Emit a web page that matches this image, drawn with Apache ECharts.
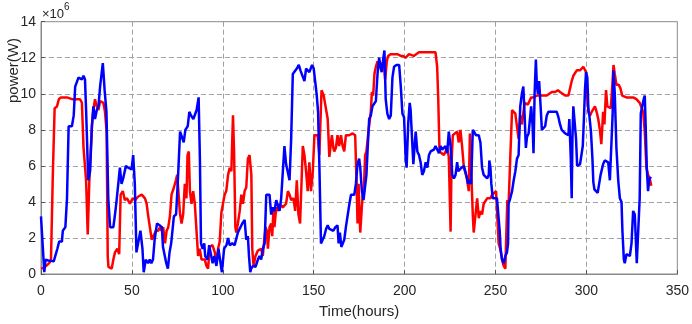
<!DOCTYPE html>
<html>
<head>
<meta charset="utf-8">
<script src="https://cdn.jsdelivr.net/npm/echarts@6/dist/echarts.min.js"></script>
<style>
  html, body { margin: 0; padding: 0; background: #fff; }
  #chart { width: 692px; height: 324px; }
</style>
</head>
<body>
<div id="chart"></div>
<script>
// power in units of 1e6 W, time in hours
const redHours = [0,1.8,2.7,4.5,5.5,6.5,7.5,8.8,9.8,11,14.3,17,19.7,21.5,22.5,23.4,24.2,24.8,25.7,26.6,28,28.8,29.7,30.7,31.6,32.5,34.3,35.2,36.1,36.7,37.1,38.9,39.8,40.7,42,43,43.8,45,46.1,47.3,48.9,50.4,51.7,53.5,55.4,57.2,58.1,59,59.9,60.9,61.8,63.2,64.5,65.4,66.3,67.2,68.2,69.1,70,70.9,71.8,73.1,74.2,74.9,75.5,76.4,77.3,78.2,79.1,80,80.6,81.3,81.9,82.8,83.7,84.6,85.5,86.4,87.3,88.3,90.1,91,91.9,92.8,94.3,95.6,96.5,97.4,98.3,99.2,100.1,101,101.9,102.9,103.8,104.7,105.6,106.2,106.9,107.4,108.3,109.3,110.2,111.1,112,112.9,113.8,114.7,115.7,116.2,116.9,118,119.3,121.1,122,123,123.5,124.2,124.8,125.7,126.6,127.2,127.9,128.4,129.4,130.3,131.2,133,133.9,134.8,135.8,136.7,137.6,138.9,139.8,140.7,141.6,142.5,143.4,144,144.9,145.8,146.7,147.6,148.5,149.5,150.4,151.3,152.2,153.1,154.3,155.5,156.4,157.7,158.6,159.5,160,160.8,161.3,162.2,163.1,164,165,165.9,166.8,167.7,169.5,171.4,172.8,173.6,174.1,174.7,175,175.6,176.5,176.9,177.4,178.3,179,180.1,181.4,182,182.7,183.4,184.2,185.1,186,186.9,187.8,188.7,189.3,190.2,190.9,192.4,196,197.9,199.1,200.6,201.5,202.4,203.3,205,206.1,207.9,217,217.4,217.9,218.5,219.2,219.8,221.6,222.5,223.4,224.3,225.3,225.8,226.5,227.6,228.9,229.8,230.7,231.6,232.6,233.5,234.4,235.3,235.9,236.8,237.5,238,239,239.9,240.8,241.7,242.6,243.5,244.4,245.4,246.3,247.2,248.1,249,250.3,251.2,251.7,252.6,253.6,254.5,255.4,256,256.5,257.2,258.1,259.1,260,260.9,261.8,262.7,263.6,264.5,265.4,266,266.7,267.8,268.7,269.6,270.9,272.7,276.4,278.2,279.1,281,282.8,284.3,285.5,286.4,288.3,290.1,291,291.9,292.8,293.8,294.7,295.6,296.5,297.4,298.3,299.2,299.8,300.3,301.1,302,302.9,303.8,304.7,305.6,306.5,307.4,308.2,309.2,309.9,310.8,311.5,312.5,313.4,314.2,314.9,315.6,316.5,317.8,318.7,319.7,320.7,322,325.7,327.5,328.4,329.3,330.2,331.2,332.1,333,333.9,334.8,335.7];
const redPower = [0.3,0.35,0.45,0.6,0.8,5.5,9.2,9.3,9.7,9.8,9.8,9.7,9.7,9.7,9.5,7.0,7.0,5.2,2.2,5.2,8.2,9.1,9.7,9.3,9.1,9.6,9.5,9.0,7.9,1.0,0.4,0.3,0.8,1.2,1.4,1.1,4.4,4.6,4.1,4.2,3.9,4.2,4.1,4.3,4.4,4.2,3.9,3.2,3.3,1.9,1.9,2.4,2.4,2.6,2.4,2.6,1.7,2.4,2.6,3.2,4.4,4.8,5.2,5.5,4.7,3.4,2.8,3.3,5.0,4.2,6.6,6.8,4.6,3.9,4.6,3.9,3.8,1.0,1.4,0.8,0.8,0.45,0.3,1.5,1.6,1.2,0.6,1.4,1.8,3.4,3.9,4.4,4.6,5.5,5.9,5.7,8.8,6.8,2.6,2.3,2.8,3.5,4.4,3.9,4.6,4.8,6.4,6.6,5.5,1.4,0.45,1.0,1.3,1.4,1.0,2.1,2.6,2.4,1.4,2.6,2.8,2.1,3.7,2.6,3.7,3.5,3.9,3.7,3.8,3.9,4.6,4.4,4.1,4.2,3.5,5.2,3.3,2.8,2.8,7.1,6.6,5.7,4.6,6.2,4.6,5.7,7.7,7.8,7.7,6.6,10.2,9.9,9.8,8.6,6.5,6.6,7.7,7.0,6.8,7.0,7.7,7.1,7.7,7.1,6.8,7.7,7.7,7.8,7.7,5.0,2.8,5.0,3.9,2.3,2.4,4.4,4.2,6.6,6.8,7.9,9.0,10.1,9.9,11.1,11.5,11.8,11.5,11.7,11.8,11.5,10.8,11.8,12.1,12.2,12.2,12.1,12.1,12.0,12.1,12.2,12.1,12.1,12.2,12.3,12.3,12.2,11.5,9.7,6.8,6.7,6.6,6.8,7.0,6.5,2.35,6.1,7.7,7.7,7.9,7.3,8.0,7.1,5.9,5.6,5.2,4.6,7.8,7.7,3.3,2.3,2.3,4.2,3.1,3.5,3.3,3.9,3.8,4.2,4.1,4.2,4.4,4.5,4.6,4.6,1.7,1.4,0.8,0.45,0.3,2.4,4.1,3.9,6.4,9.1,9.2,8.9,9.0,7.5,8.8,8.3,8.2,9.5,9.5,9.4,9.5,9.8,9.8,9.9,9.9,9.9,10.0,10.1,10.1,10.2,10.1,10.0,9.9,9.9,10.0,10.7,11.0,11.1,11.3,11.4,11.3,11.4,11.5,11.6,11.2,9.9,9.0,8.8,9.0,9.1,9.3,9.0,8.6,8.0,7.2,9.0,8.3,10.2,9.3,9.3,9.2,10.4,11.6,11.1,10.5,10.5,10.3,9.9,9.9,9.8,9.8,9.7,9.6,9.5,9.6,9.0,7.9,5.9,5.5,5.3,4.9];

const blueHours = [0,1.8,2.5,4,7,9,10,11.5,12,13.4,14.3,15.2,17,18,18.8,20.6,22.5,23.4,24.2,24.8,26,27,28,28.8,29.7,30.7,31.6,32.5,34,35,36,37,38,39.8,40.7,41.6,42.5,43.4,44.3,45.2,46.7,48,49.8,50.7,51.6,52.5,53.4,54.7,55.8,56.5,57.6,58.9,59.8,60.7,61.6,62.5,63.8,65.2,66.5,67.1,68,68.9,69.8,70.7,71.6,73.1,74.3,75.2,76.5,77.6,78.5,79.4,80.7,81.6,82.5,83.8,84.9,85.6,86.7,87.4,88,88.9,89.8,90.3,91.6,92.5,93.4,94.4,95.3,96.5,97.6,99.5,100.7,102,102.9,103.8,105.2,106.5,107.4,108.3,109.3,110.7,112,112.9,113.8,114.4,115.1,115.6,116.6,118,119.3,120.2,121.1,122,123,123.9,124.8,125.7,126.6,127.5,128.4,129.4,130.3,131.2,132.1,133,133.9,134.8,135.8,136.7,137.6,138.5,139.4,140.7,141.8,142.7,143.6,144.9,145.8,146.7,147.6,149.1,150,150.9,151.6,152.4,153.1,154,154.9,155.8,156.8,157.7,158.6,159.5,160.8,161.9,163.1,163.7,164.4,165.2,165.9,166.8,167.7,168.6,169.5,170.5,172.3,173.2,174.1,175,175.6,176.5,177.4,178.3,179,179.6,180.5,181.4,182.3,183.2,184.2,185.1,186,186.7,187.4,188.2,188.9,189.6,190.5,191.5,192.4,193.3,194.2,195.5,197,197.9,198.8,199.7,200.6,201.1,202,202.8,203.3,204.3,204.8,205.5,206.1,207,207.9,208.8,209.7,210.6,211.6,212.5,213.4,214.3,216.1,217,217.9,218.9,219.8,220.7,221.6,222.5,223.4,224.3,225.3,226.2,227.1,228,228.9,229.5,230.2,231.3,232.6,233.5,234.4,234.9,235.7,236.6,237.5,238.4,239.3,240.8,241.7,242.6,243.5,244.4,245.4,246.3,246.6,247.2,247.7,248.5,249.6,250.8,251.7,252.3,252.8,253.6,254.5,255.4,256.3,256.9,257.2,258.1,259.1,260,260.9,261.8,262.7,263.6,264.5,265.3,266,266.7,267.3,268.2,269.1,269.6,270.4,270.9,271.5,272.2,272.7,273.3,274,274.8,275.5,276.4,277.3,278.2,279.1,280,281.9,283.7,284.6,285.5,286.4,287.4,288.3,290.1,290.6,291.4,291.9,292.3,292.8,293.8,294.3,294.9,295.6,296.5,297.4,298,298.7,299.2,299.8,300.5,301.1,301.6,302.5,303.3,303.8,304.4,305.3,306.2,307.1,307.8,308.4,309.2,310.1,311.1,312,312.9,313.8,314.4,314.9,315.6,316.5,317.5,318.4,319.3,319.8,320.6,321.1,322,322.9,323.9,324.8,325.7,326.6,327.1,327.7,328.8,329.3,329.9,330.8,331.5,332.1,332.6,333.2,333.9,334.5,335.4];
const bluePower = [3.2,0.1,0.8,0.75,0.7,1.4,1.8,1.8,2.4,2.6,4.2,8.2,8.2,8.8,10.4,10.9,10.8,11.0,10.8,9.1,5.2,5.7,8.2,9.3,8.6,9.1,9.3,10.4,11.7,10.2,9.0,4.2,2.6,2.6,3.3,4.1,4.1,5.9,5.0,5.3,6.0,5.9,5.8,6.6,5.0,1.2,1.7,2.4,1.4,0.1,0.8,0.6,0.8,0.6,0.8,1.9,2.8,2.7,2.6,1.5,1.4,0.6,0.3,1.2,1.7,3.2,3.3,5.0,7.9,8.0,7.3,8.0,8.2,9.0,8.8,8.6,8.6,9.1,9.8,6.4,1.7,1.4,1.7,1.0,0.8,1.6,1.5,0.6,1.0,0.45,1.4,0.1,1.4,1.6,2.0,1.6,1.7,1.6,1.5,2.3,2.4,2.8,3.0,1.9,2.1,1.0,0.1,0.3,0.45,0.4,0.8,1.0,0.8,1.4,1.7,4.4,4.5,4.4,3.3,3.7,3.5,4.1,4.2,3.5,4.2,4.2,7.1,6.1,6.0,5.2,7.5,11.1,11.2,11.4,11.6,11.3,11.2,10.7,11.4,11.3,11.2,11.6,11.4,10.6,10.0,9.0,6.1,1.7,1.7,2.1,2.5,2.7,2.5,2.4,2.4,2.6,2.7,1.7,2.3,1.5,1.4,1.9,2.6,2.7,3.8,4.4,4.4,5.0,6.1,6.4,5.9,4.6,4.1,4.2,5.5,6.8,8.6,8.8,9.3,9.4,9.6,11.1,12.0,11.5,11.2,11.9,12.4,9.7,8.9,8.6,8.8,10.9,11.5,11.6,11.6,10.4,8.9,8.7,6.4,5.9,8.4,9.5,9.1,7.1,6.1,7.1,7.9,6.8,6.6,6.2,5.5,5.7,6.2,5.9,6.6,6.8,6.9,7.1,7.1,6.7,7.1,6.9,6.8,7.1,6.7,7.9,7.1,5.5,5.3,5.5,6.2,5.7,5.7,5.9,6.0,5.9,5.3,5.0,5.2,5.0,8.0,7.9,7.7,7.7,7.3,5.9,5.5,5.4,5.3,5.5,6.3,5.9,5.0,4.2,4.3,4.2,4.2,2.4,1.4,0.8,0.6,1.0,1.2,1.7,3.9,4.2,4.6,5.2,5.7,6.4,6.6,9.3,10.0,10.4,8.8,7.0,7.6,7.8,7.9,9.3,8.2,6.7,10.0,11.9,10.6,10.0,10.7,9.3,8.0,8.0,8.2,8.8,9.0,8.9,9.0,9.0,8.7,8.3,8.0,8.0,7.8,7.7,8.6,6.4,4.2,7.5,9.3,9.4,7.5,6.0,6.0,6.1,6.2,7.1,8.8,10.2,11.2,10.9,9.1,8.8,7.9,6.4,5.1,4.7,4.6,4.5,4.4,5.5,5.6,6.1,6.3,6.3,6.2,5.2,5.2,8.8,11.3,10.0,7.0,5.2,4.2,4.0,2.4,0.8,0.6,1.1,1.0,1.0,1.7,3.5,3.3,2.1,0.6,0.6,4.2,8.9,9.0,9.7,9.9,8.2,5.9,4.6,5.2,5.4];

const xTicks = [0, 50, 100, 150, 200, 250, 300, 350];
const yTicks = [0, 2, 4, 6, 8, 10, 12, 14];

const pairs = (xs, ys) => xs.map((x, i) => [x, ys[i]]);

const chart = echarts.init(document.getElementById('chart'), null, { renderer: 'canvas' });
const font = 'Liberation Sans, Arial, Helvetica, sans-serif';
const textColor = '#262626';
const gridLine = { show: true, lineStyle: { color: '#a0a0a0', type: [5, 3], width: 1 } };

chart.setOption({
  animation: false,
  backgroundColor: '#fff',
  grid: {
    left: 41, right: 12.7, top: 21.7, bottom: 45,
    show: true, borderColor: '#8a8a8a', borderWidth: 1
  },
  xAxis: {
    type: 'value',
    min: xTicks[0], max: xTicks[xTicks.length - 1], interval: 50,
    name: 'Time(hours)', nameLocation: 'middle', nameGap: 30,
    nameTextStyle: { fontFamily: font, fontSize: 15, color: textColor },
    axisLine: { show: true, onZero: false, lineStyle: { color: '#8a8a8a' } },
    axisTick: { show: true, inside: true, length: 4, lineStyle: { color: '#555' } },
    axisLabel: { fontFamily: font, fontSize: 14, color: textColor, margin: 10 },
    splitLine: gridLine
  },
  yAxis: {
    type: 'value',
    min: yTicks[0], max: yTicks[yTicks.length - 1], interval: 2,
    axisLine: { show: true, lineStyle: { color: '#8a8a8a' } },
    axisTick: { show: true, inside: true, length: 4, lineStyle: { color: '#555' } },
    axisLabel: { fontFamily: font, fontSize: 14, color: textColor, margin: 5 },
    splitLine: gridLine
  },
  graphic: [
    {
      type: 'text', left: 6, top: 38, rotation: Math.PI / 2,
      style: { text: 'power(W)', font: '15px ' + font, fill: textColor }
    },
    {
      type: 'text', left: 42, top: 2,
      style: {
        text: '{a|×10}{b|6}',
        rich: {
          a: { fontFamily: font, fontSize: 13, fill: textColor, verticalAlign: 'bottom', padding: [6, 0, 0, 0] },
          b: { fontFamily: font, fontSize: 10, fill: textColor, verticalAlign: 'top' }
        }
      }
    }
  ],
  series: [
    {
      name: 'red', type: 'line', data: pairs(redHours, redPower),
      showSymbol: false, symbol: 'none', lineStyle: { color: '#ff0000', width: 2.5 }, z: 2
    },
    {
      name: 'blue', type: 'line', data: pairs(blueHours, bluePower),
      showSymbol: false, symbol: 'none', lineStyle: { color: '#0000ff', width: 2.5 }, z: 3
    }
  ]
});
</script>
</body>
</html>
